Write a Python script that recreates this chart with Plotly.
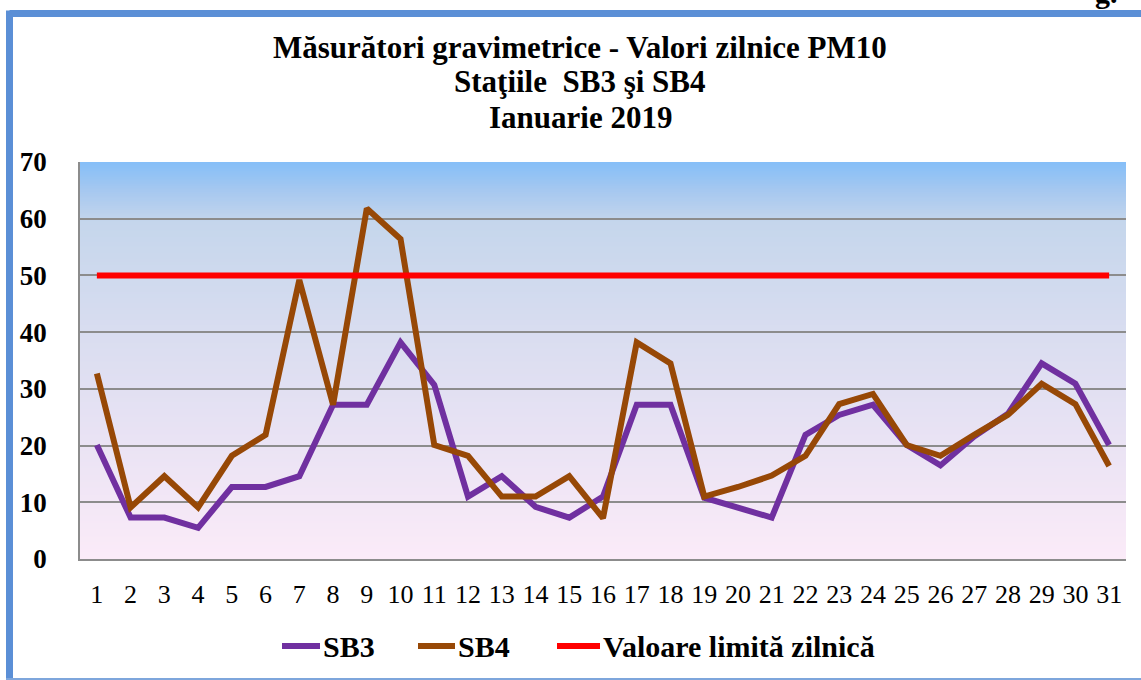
import base64
import struct
import zlib
import plotly.graph_objects as go

# ---------------- data ----------------
days = list(range(1, 32))
day_labels = [str(d) for d in days]
sb3 = [20.1, 7.3, 7.3, 5.5, 12.7, 12.7, 14.6, 27.2, 27.2, 38.2, 30.7, 11.0, 14.6, 9.2, 7.3, 11.0,
       27.2, 27.2, 10.8, 9.0, 7.3, 21.9, 25.4, 27.2, 20.1, 16.5, 21.6, 25.6, 34.5, 30.9, 20.1]
sb4 = [32.7, 9.1, 14.6, 9.1, 18.2, 21.9, 49.2, 27.2, 61.8, 56.4, 20.1, 18.2, 11.0, 11.0, 14.6, 7.2,
       38.2, 34.5, 11.0, 12.7, 14.7, 18.2, 27.3, 29.1, 20.1, 18.2, 21.9, 25.4, 30.9, 27.3, 16.4]
limit = [50] * 31
y_ticks = [0, 10, 20, 30, 40, 50, 60, 70]
series_names = ["SB3", "SB4", "Valoare limită zilnică"]
series_colors = ["#7030A0", "#974806", "#FF0000"]

title_lines = ["Măsurători gravimetrice - Valori zilnice PM10",
               "Staţiile  SB3 şi SB4",
               "Ianuarie 2019"]

# ---------------- layout geometry (pixels) ----------------
W, H = 1141, 680
L, R, T, B = 80, 1126, 162, 559


def px_x(p):
    return (p - L) / (R - L)


def px_y(p):
    return (B - p) / (B - T)


# ---------------- background gradient image ----------------
stops = [(0.00, (134, 191, 248)),
         (0.07, (166, 200, 240)),
         (0.15, (197, 214, 236)),
         (0.43, (217, 221, 240)),
         (0.71, (234, 227, 244)),
         (1.00, (251, 235, 248))]


def grad_png(stops, h=300, w=2):
    raw = b""
    for i in range(h):
        t = i / (h - 1)
        for k in range(len(stops) - 1):
            t0, c0 = stops[k]
            t1, c1 = stops[k + 1]
            if t0 <= t <= t1:
                f = (t - t0) / (t1 - t0) if t1 > t0 else 0
                col = [round(a + (b - a) * f) for a, b in zip(c0, c1)]
                break
        raw += b"\x00" + bytes(col) * w

    def chunk(tag, data):
        c = struct.pack(">I", len(data)) + tag + data
        return c + struct.pack(">I", zlib.crc32(tag + data) & 0xFFFFFFFF)

    png = (b"\x89PNG\r\n\x1a\n"
           + chunk(b"IHDR", struct.pack(">IIBBBBB", w, h, 8, 2, 0, 0, 0))
           + chunk(b"IDAT", zlib.compress(raw))
           + chunk(b"IEND", b""))
    return "data:image/png;base64," + base64.b64encode(png).decode()


fig = go.Figure()
for vals, name, color in zip([sb3, sb4, limit], series_names, series_colors):
    fig.add_trace(go.Scatter(x=days, y=vals, name=name, mode="lines",
                             line=dict(color=color, width=6), showlegend=False))

serif = "Liberation Serif"

annotations = []
for i, line in enumerate(title_lines):
    annotations.append(dict(text="<b>" + line + "</b>", xref="paper", yref="paper",
                            x=px_x(580), y=px_y(47 + 35 * i),
                            xanchor="center", yanchor="middle", showarrow=False,
                            font=dict(family=serif, size=31, color="black")))
annotations.append(dict(text="<b>g.</b>", xref="paper", yref="paper", x=px_x(1093), y=px_y(11),
                        xanchor="left", yanchor="bottom", showarrow=False,
                        font=dict(family=serif, size=30, color="black")))

frame = "#5B8FD6"
shapes = [
    dict(type="line", xref="paper", yref="paper", x0=px_x(9.5), x1=px_x(1150),
         y0=px_y(13.5), y1=px_y(13.5), line=dict(color=frame, width=7), layer="above"),
    dict(type="line", xref="paper", yref="paper", x0=px_x(9.5), x1=px_x(9.5),
         y0=px_y(10.5), y1=px_y(690), line=dict(color=frame, width=7), layer="above"),
    dict(type="line", xref="paper", yref="paper", x0=px_x(6), x1=px_x(1150),
         y0=px_y(679), y1=px_y(679), line=dict(color="#7EA6DC", width=2), layer="above"),
]

# ---------------- legend (drawn as sample lines + text) ----------------
legend_y = 646
legend_samples = [(282, 320), (418, 455), (557, 600)]
for (x0, x1), name, color in zip(legend_samples, series_names, series_colors):
    shapes.append(dict(type="line", xref="paper", yref="paper", x0=px_x(x0), x1=px_x(x1),
                       y0=px_y(legend_y), y1=px_y(legend_y),
                       line=dict(color=color, width=6), layer="above"))
    annotations.append(dict(text="<b>" + name + "</b>", xref="paper", yref="paper",
                            x=px_x(x1 + 1), y=px_y(legend_y), xanchor="left", yanchor="middle",
                            showarrow=False,
                            font=dict(family=serif, size=30, color="black")))

fig.update_layout(
    width=W, height=H,
    margin=dict(l=L, r=W - R, t=T, b=H - B, pad=0),
    paper_bgcolor="white", plot_bgcolor="white",
    font=dict(family=serif, color="black"),
    showlegend=False,
    annotations=annotations,
    shapes=shapes,
    images=[dict(source=grad_png(stops), xref="x", yref="y", x=0.5, y=70,
                 sizex=31, sizey=70, sizing="stretch", layer="below",
                 xanchor="left", yanchor="top")],
    hovermode=False,
)

fig.update_xaxes(range=[0.5, 31.5], tickmode="array", tickvals=days, ticktext=day_labels,
                 showgrid=False, showline=True, linecolor="#8C8C8C", linewidth=1.5,
                 ticks="outside", ticklen=11, tickcolor="rgba(0,0,0,0)",
                 tickfont=dict(family=serif, size=26, color="black"), zeroline=False)
fig.update_yaxes(range=[0, 70], tickmode="array", tickvals=y_ticks,
                 showgrid=True, gridcolor="#8C8C8C", gridwidth=1.5,
                 showline=True, linecolor="#8C8C8C", linewidth=1.5,
                 ticks="outside", ticklen=26, tickcolor="rgba(0,0,0,0)",
                 tickfont=dict(family=serif, size=27, color="black", weight="bold"), zeroline=False)

fig.write_html("out.html", config={"displayModeBar": False},
               post_script="document.body.style.margin='0px';")
